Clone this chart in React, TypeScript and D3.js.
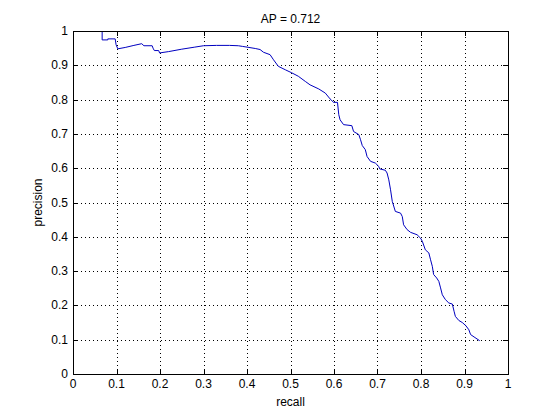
import React, { useEffect, useRef } from 'react';
import * as d3 from 'd3';

// precision / recall curve values
const recall = [
  0.067, 0.067, 0.080, 0.080, 0.097, 0.099, 0.103, 0.12, 0.14, 0.158, 0.163, 0.182, 0.184, 0.187,
  0.197, 0.199, 0.22, 0.25, 0.28, 0.30, 0.33, 0.36, 0.38, 0.39, 0.40, 0.419, 0.43, 0.438,
  0.453, 0.461, 0.472, 0.488, 0.503, 0.518, 0.534, 0.545, 0.565, 0.580, 0.591, 0.599, 0.608,
  0.611, 0.614, 0.622, 0.641, 0.645, 0.657, 0.661, 0.665, 0.672, 0.676, 0.684, 0.695, 0.703,
  0.705, 0.718, 0.722, 0.726, 0.730, 0.734, 0.741, 0.753, 0.757, 0.760, 0.768, 0.776, 0.791,
  0.799, 0.803, 0.810, 0.818, 0.822, 0.826, 0.829, 0.836, 0.841, 0.845, 0.849, 0.856, 0.864,
  0.872, 0.876, 0.879, 0.887, 0.895, 0.903, 0.910, 0.914, 0.922, 0.935,
];
const precision = [
  1.0, 0.974, 0.974, 0.977, 0.977, 0.960, 0.948, 0.952, 0.958, 0.963, 0.957, 0.957, 0.950, 0.943,
  0.943, 0.936, 0.940, 0.947, 0.953, 0.957, 0.958, 0.958, 0.957, 0.955, 0.953, 0.949, 0.946, 0.938,
  0.931, 0.916, 0.897, 0.887, 0.878, 0.868, 0.853, 0.843, 0.831, 0.819, 0.802, 0.792, 0.792,
  0.756, 0.741, 0.727, 0.724, 0.707, 0.698, 0.683, 0.666, 0.654, 0.634, 0.620, 0.615, 0.605,
  0.598, 0.594, 0.586, 0.566, 0.537, 0.503, 0.474, 0.469, 0.459, 0.435, 0.421, 0.413, 0.406,
  0.396, 0.387, 0.362, 0.353, 0.333, 0.314, 0.290, 0.280, 0.270, 0.251, 0.231, 0.217, 0.207,
  0.204, 0.183, 0.168, 0.156, 0.150, 0.141, 0.129, 0.115, 0.108, 0.097,
];
const xTicks = [0, 0.1, 0.2, 0.3, 0.4, 0.5, 0.6, 0.7, 0.8, 0.9, 1];
const yTicks = [0, 0.1, 0.2, 0.3, 0.4, 0.5, 0.6, 0.7, 0.8, 0.9, 1];
const title = 'AP = 0.712';

const width = 560;
const height = 420;
const margin = { top: 31, right: 52, bottom: 46, left: 73 };

const App = () => {
  const ref = useRef<SVGSVGElement>(null);

  useEffect(() => {
    const svg = d3.select(ref.current);
    svg.selectAll('*').remove();

    const x = d3.scaleLinear().domain([0, 1]).range([margin.left, width - margin.right]);
    const y = d3.scaleLinear().domain([0, 1]).range([height - margin.bottom, margin.top]);
    const font = '"Liberation Sans", Arial, sans-serif';

    svg.append('rect')
      .attr('width', width).attr('height', height).attr('fill', '#fff');

    // dotted grid
    const grid = svg.append('g')
      .attr('stroke', '#000')
      .attr('stroke-width', 1)
      .attr('stroke-dasharray', '1,3')
      .attr('shape-rendering', 'crispEdges');
    grid.selectAll('.gx')
      .data(xTicks.slice(1, -1))
      .join('line')
        .attr('x1', d => Math.round(x(d)) + 0.5).attr('x2', d => Math.round(x(d)) + 0.5)
        .attr('y1', y(0)).attr('y2', y(1));
    grid.selectAll('.gy')
      .data(yTicks.slice(1, -1))
      .join('line')
        .attr('y1', d => Math.round(y(d)) + 0.5).attr('y2', d => Math.round(y(d)) + 0.5)
        .attr('x1', x(0)).attr('x2', x(1));

    // the curve
    const pts = recall.map((r, i) => [r, precision[i]] as [number, number]);
    svg.append('path')
      .datum(pts)
      .attr('fill', 'none')
      .attr('stroke', '#0000c0')
      .attr('stroke-width', 1)
      .attr('d', d3.line().x(d => x(d[0])).y(d => y(d[1])));

    // inward ticks, all four sides
    const tl = 5;
    const ticks = svg.append('g')
      .attr('stroke', '#000')
      .attr('shape-rendering', 'crispEdges');
    xTicks.forEach(t => {
      const px = Math.round(x(t)) + 0.5;
      ticks.append('line').attr('x1', px).attr('x2', px).attr('y1', y(0)).attr('y2', y(0) - tl);
      ticks.append('line').attr('x1', px).attr('x2', px).attr('y1', y(1)).attr('y2', y(1) + tl);
    });
    yTicks.forEach(t => {
      const py = Math.round(y(t)) + 0.5;
      ticks.append('line').attr('y1', py).attr('y2', py).attr('x1', x(0)).attr('x2', x(0) + tl);
      ticks.append('line').attr('y1', py).attr('y2', py).attr('x1', x(1)).attr('x2', x(1) - tl);
    });

    // axes box
    svg.append('rect')
      .attr('x', Math.round(x(0)) + 0.5)
      .attr('y', Math.round(y(1)) + 0.5)
      .attr('width', Math.round(x(1)) - Math.round(x(0)))
      .attr('height', Math.round(y(0)) - Math.round(y(1)))
      .attr('fill', 'none')
      .attr('stroke', '#000')
      .attr('shape-rendering', 'crispEdges');

    // tick labels
    svg.append('g')
      .selectAll('text')
      .data(xTicks)
      .join('text')
        .attr('x', d => x(d))
        .attr('y', y(0) + 14)
        .attr('text-anchor', 'middle')
        .style('font', `12px ${font}`)
        .text(d => d3.format('')(d));
    svg.append('g')
      .selectAll('text')
      .data(yTicks)
      .join('text')
        .attr('x', x(0) - 5)
        .attr('y', d => y(d) + 4)
        .attr('text-anchor', 'end')
        .style('font', `12px ${font}`)
        .text(d => d3.format('')(d));

    // labels and title
    svg.append('text')
      .attr('x', (x(0) + x(1)) / 2)
      .attr('y', 406)
      .attr('text-anchor', 'middle')
      .style('font', `12px ${font}`)
      .text('recall');
    svg.append('text')
      .attr('transform', `translate(42,${(y(0) + y(1)) / 2}) rotate(-90)`)
      .attr('text-anchor', 'middle')
      .style('font', `12px ${font}`)
      .text('precision');
    svg.append('text')
      .attr('x', (x(0) + x(1)) / 2)
      .attr('y', 23)
      .attr('text-anchor', 'middle')
      .style('font', `12px ${font}`)
      .text(title);
  }, []);

  return (
    <div style={{ position: 'fixed', left: 0, top: 0 }}>
      <svg ref={ref} width={width} height={height} style={{ display: 'block' }} />
    </div>
  );
};

export default App;
